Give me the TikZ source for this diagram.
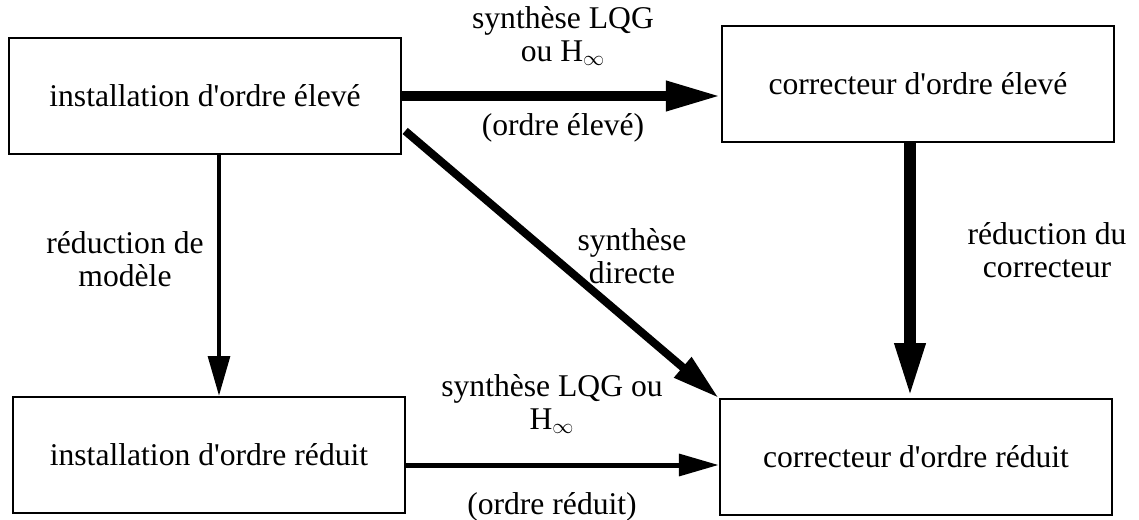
\documentclass[tikz,border=0pt]{standalone}
\usepackage{fontspec}
\setmainfont{Liberation Serif}
\usetikzlibrary{arrows.meta}
\newcommand{\apos}{\textquotesingle}
\begin{document}
\begin{tikzpicture}[
    x=0.02cm, y=-0.02cm,
    every node/.style={font=\fontsize{18}{19}\selectfont, align=center},
    box/.style={draw, line width=1.1pt, minimum width=7.85cm, minimum height=2.32cm, inner sep=0pt},
    heavy/.style={line width=0.2cm, -{Triangle[length=1.1cm, width=0.56cm]}},
    light/.style={line width=0.09cm, -{Triangle[length=0.8cm, width=0.43cm]}}
]
\useasboundingbox (0,0) rectangle (1139,520);

\node[box] (hi) at (205,96) {installation d\apos ordre élevé};
\node[box] (chi) at (918,84) {correcteur d\apos ordre élevé};
\node[box] (lo) at (209,455) {installation d\apos ordre réduit};
\node[box] (clo) at (916,457) {correcteur d\apos ordre réduit};

\draw[heavy] (hi.east) -- (hi.east -| chi.west);
\draw[heavy, line width=0.24cm] ([xshift=-0.16cm]chi.south) -- ([xshift=-0.16cm]chi.south |- clo.north);
\draw[heavy, line width=0.16cm, -{Triangle[length=0.95cm, width=0.5cm]}] ([shift={(0.06cm,0.48cm)}]hi.south east) -- (clo.north west);
\draw[light] ([xshift=0.28cm]hi.south) -- ([xshift=0.28cm]hi.south |- lo.north);
\draw[light, line width=0.1cm] ([yshift=-0.2cm]lo.east) -- ([yshift=-0.2cm]lo.east -| clo.west);

% labels
\node (l1) at (563,36) {synthèse LQG\\ou H$_\infty$};
\node (l2) at (563,128) {(ordre élevé)};
\node (l3) at (125,259) {réduction de\\modèle};
\node (l4) at (632,256) {synthèse\\directe};
\node (l5) at (1047,250) {réduction du\\correcteur};
\node (l6) at (552,404) {synthèse LQG ou\\H$_\infty$};
\node (l7) at (552,507) {(ordre réduit)};
\end{tikzpicture}
\end{document}
